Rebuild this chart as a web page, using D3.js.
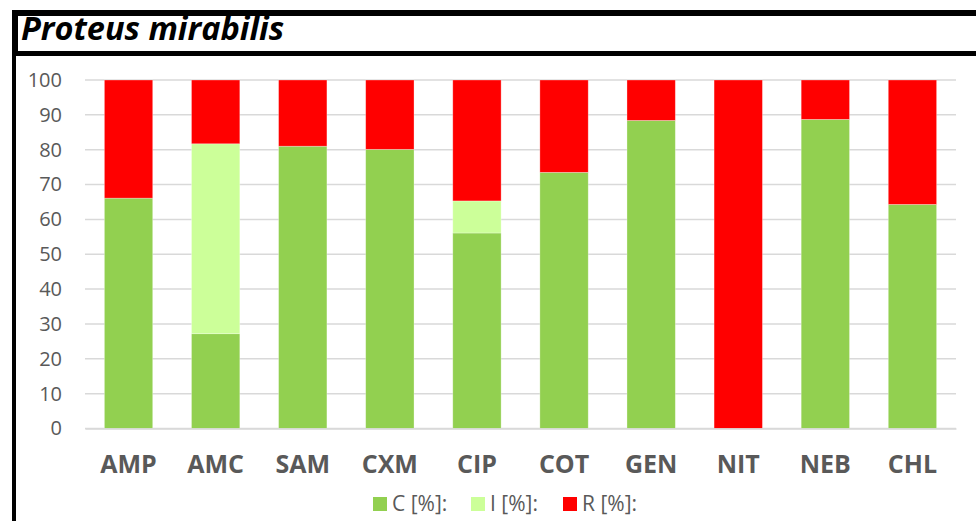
<!DOCTYPE html>
<html>
<head>
<meta charset="utf-8">
<script src="https://cdn.jsdelivr.net/npm/d3@7"></script>
<style>
  body { margin: 0; background: #fff; }
  svg { display: block; font-family: "Open Sans", sans-serif; }
</style>
</head>
<body>
<script>
// antibiotic categories
let categories = ["AMP", "AMC", "SAM", "CXM", "CIP", "COT", "GEN", "NIT", "NEB", "CHL"]

// percentages
let cValues = [66.1, 27.2, 81.0, 80.1, 56.1, 73.5, 88.4, 0, 88.7, 64.3]
let iValues = [0, 54.5, 0, 0, 9.2, 0, 0, 0, 0, 0]
let rValues = [33.9, 18.3, 19.0, 19.9, 34.7, 26.5, 11.6, 100, 11.3, 35.7]

let seriesNames = ["C [%]:", "I [%]:", "R [%]:"]
let seriesColors = ["#92d050", "#ccff99", "#ff0000"]
let yTicks = [0, 10, 20, 30, 40, 50, 60, 70, 80, 90, 100]

let width = 976
let height = 521

let svg = d3.select("body")
            .append("svg")
            .attr("width", width)
            .attr("height", height)

// frame round the title and chart
svg.append("rect").attr("x", 12).attr("y", 10).attr("width", width - 12).attr("height", 6).attr("fill", "#000")
svg.append("rect").attr("x", 12).attr("y", 51).attr("width", width - 12).attr("height", 5).attr("fill", "#000")
svg.append("rect").attr("x", 12).attr("y", 10).attr("width", 6).attr("height", 46).attr("fill", "#000")
svg.append("rect").attr("x", 12).attr("y", 56).attr("width", 4).attr("height", height - 56).attr("fill", "#000")

svg.append("text")
    .attr("x", 21)
    .attr("y", 40)
    .attr("font-size", 32.5)
    .attr("font-weight", "bold")
    .attr("font-style", "italic")
    .attr("fill", "#000")
    .text("Proteus mirabilis")

// table for the stack
let table = categories.map((cat, i) => ({
    cat: cat,
    "C [%]:": cValues[i],
    "I [%]:": iValues[i],
    "R [%]:": rValues[i]
}))

let stacked = d3.stack().keys(seriesNames)(table)

let xScale = d3.scaleBand()
                .domain(categories)
                .range([85, 956])
                .paddingInner(0.445)
                .paddingOuter(0.2225)

let yScale = d3.scaleLinear()
                .domain([0, 100])
                .range([428.5, 80])

// gridlines
svg.append("g")
    .selectAll("line")
    .data(yTicks)
    .enter()
    .append("line")
    .attr("x1", 85)
    .attr("x2", 956)
    .attr("y1", d => yScale(d))
    .attr("y2", d => yScale(d))
    .attr("stroke", "#d9d9d9")
    .attr("stroke-width", 1.5)

// y axis labels
let yAxis = d3.axisLeft(yScale)
                .tickValues(yTicks)
                .tickSize(0)
                .tickPadding(23)

let yG = svg.append("g")
    .attr("transform", "translate(85,0)")
    .call(yAxis)
yG.select(".domain").remove()
yG.selectAll("text")
    .attr("font-family", "Open Sans")
    .attr("font-size", 20)
    .attr("fill", "#595959")

// bars
let colorScale = d3.scaleOrdinal().domain(seriesNames).range(seriesColors)

svg.append("g")
    .selectAll("g")
    .data(stacked)
    .enter()
    .append("g")
    .attr("fill", d => colorScale(d.key))
    .selectAll("rect")
    .data(d => d)
    .enter()
    .append("rect")
    .attr("x", d => xScale(d.data.cat))
    .attr("width", xScale.bandwidth())
    .attr("y", d => yScale(d[1]))
    .attr("height", d => yScale(d[0]) - yScale(d[1]))
    .attr("stroke", "#fff")
    .attr("stroke-opacity", 0.4)
    .attr("stroke-width", 0.75)

// x axis labels
let xAxis = d3.axisBottom(xScale)
                .tickSize(0)
                .tickPadding(27)

let xG = svg.append("g")
    .attr("transform", "translate(0,428.5)")
    .call(xAxis)
xG.select(".domain").attr("stroke", "#d9d9d9").attr("stroke-width", 1.5)
xG.selectAll("text")
    .attr("font-family", "Open Sans")
    .attr("font-size", 25)
    .attr("font-weight", "bold")
    .attr("fill", "#595959")

// legend
let legendX = [373, 471, 563]
let legend = svg.append("g")
    .selectAll("g")
    .data(seriesNames)
    .enter()
    .append("g")
    .attr("transform", (d, i) => "translate(" + legendX[i] + ",497)")

legend.append("rect")
    .attr("width", 14)
    .attr("height", 14)
    .attr("fill", d => colorScale(d))

legend.append("text")
    .attr("x", 19)
    .attr("y", 7)
    .attr("dy", "0.35em")
    .attr("font-size", 21)
    .attr("fill", "#595959")
    .text(d => d)
</script>
</body>
</html>
